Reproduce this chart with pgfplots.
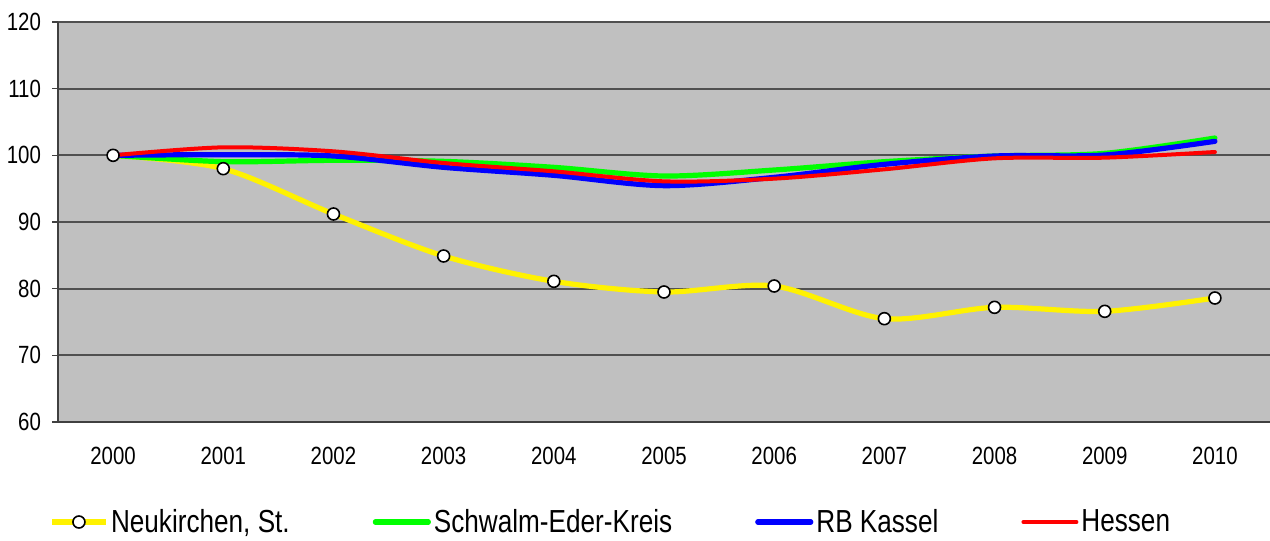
\documentclass[border=0pt]{standalone}
\usepackage{fontspec}
\setmainfont{Liberation Sans}[FakeStretch=0.82]
\usepackage{pgfplots}
\pgfplotsset{compat=1.18}
\definecolor{bggray}{HTML}{C0C0C0}
\definecolor{gridgray}{HTML}{505050}
\definecolor{axgray}{HTML}{404040}
\begin{document}
\begin{tikzpicture}
\useasboundingbox (-29bp,-59.5bp) rectangle (606bp,211bp);
\begin{axis}[
  at={(0,0)}, anchor=south west,
  scale only axis, width=606bp, height=200bp,
  xmin=-0.5, xmax=10.5, ymin=60, ymax=120,
  ytick={60,70,...,120},
  xtick={0,...,10},
  xticklabels={2000,2001,2002,2003,2004,2005,2006,2007,2008,2009,2010},
  minor xtick={-0.5,0.5,...,10.5},
  /pgf/number format/assume math mode=true,
  axis lines=left, axis line style={-, draw=axgray, line width=1bp},
  axis background/.style={fill=bggray},
  ymajorgrids, grid style={draw=gridgray, line width=0.9bp},
  tick align=outside, major tick length=3bp, minor tick length=4bp,
  xtick style={draw=none},
  minor tick style={draw=axgray, line width=0.8bp},
  ytick style={draw=axgray, line width=0.8bp},
  tick label style={font=\fontsize{12.5}{15}\selectfont},
  xticklabel style={yshift=-6bp},
  yticklabel style={xshift=-2bp},
  legend columns=4,
  legend cell align=left,
  legend style={at={(-0.012,-0.25)}, anchor=west, draw=none, fill=none,
    font=\fontsize{16}{19}\selectfont,
    /tikz/every even column/.append style={column sep=40bp},
    nodes={inner sep=1.5bp}},
  legend image code/.code={\draw[mark repeat=2,mark phase=2,#1] plot coordinates {(0bp,0bp)(13.25bp,0bp)(26.5bp,0bp)};},
]
\addplot[draw=yellow, line width=2.6bp, smooth, tension=0.5, mark=*, mark size=3bp,
  mark options={fill=white, draw=black, line width=0.8bp}]
  coordinates {(0,100) (1,98.0) (2,91.2) (3,84.9) (4,81.1) (5,79.5) (6,80.4) (7,75.5) (8,77.2) (9,76.6) (10,78.6)};
\addlegendentry{Neukirchen, St.}
\addplot[draw=green, line width=2.6bp, smooth, tension=0.5, line cap=round]
  coordinates {(0,100) (1,99.05) (2,99.25) (3,99.1) (4,98.2) (5,96.9) (6,97.8) (7,99.05) (8,99.9) (9,100.3) (10,102.6)};
\addlegendentry{Schwalm-Eder-Kreis}
\addplot[draw=blue, line width=2.6bp, smooth, tension=0.5, line cap=round]
  coordinates {(0,100) (1,100.1) (2,99.9) (3,98.2) (4,97.0) (5,95.45) (6,96.7) (7,98.65) (8,99.9) (9,100.05) (10,102.1)};
\addlegendentry{RB Kassel}
\addplot[draw=red, line width=2bp, smooth, tension=0.5, line cap=round]
  coordinates {(0,100) (1,101.2) (2,100.6) (3,98.85) (4,97.6) (5,96.1) (6,96.5) (7,97.9) (8,99.55) (9,99.65) (10,100.5)};
\addlegendentry{Hessen}
\end{axis}
\end{tikzpicture}
\end{document}
